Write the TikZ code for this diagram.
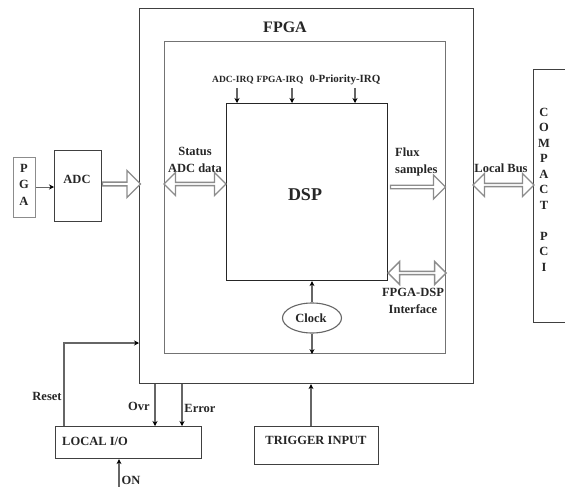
\documentclass[tikz,border=0pt]{standalone}
\usepackage{fontspec}
\setmainfont{Liberation Serif}
\usetikzlibrary{arrows.meta, calc, shapes.geometric, shapes.arrows}

\begin{document}
\begin{tikzpicture}[x=1pt,y=-1pt,>=Stealth,
  every node/.style={font=\bfseries\fontsize{12.5}{17}\selectfont, inner sep=0pt, text=black!85},
  box/.style={draw=black!75, line width=1.1pt, anchor=north west},
  link/.style={draw=black!60, line width=1.1pt, ->, >={Stealth[length=5pt,width=5pt,black]}},
  hollow/.style={draw=black!45, fill=white, line width=1.3pt, inner sep=0pt},
  small/.style={font=\bfseries\fontsize{9.5}{11}\selectfont}]
  \useasboundingbox (0,0) rectangle (565,487);

  % boxes
  \node[box, minimum width=334pt, minimum height=375pt] (fpga) at (139,8) {};
  \node[box, draw=black!55, minimum width=281pt, minimum height=312pt] (core) at (164,41) {};
  \node[box, draw=black!85, minimum width=161pt, minimum height=177pt] (dsp) at (226,103) {};
  \node[box, draw=black!45, minimum width=22pt, minimum height=60pt] (pga) at (13,157) {};
  \node[box, minimum width=47pt, minimum height=71pt] (adc) at (54,150) {};
  \node[box, minimum width=60pt, minimum height=253pt] (cpci) at (533,69) {};
  \node[box, minimum width=146pt, minimum height=32pt] (lio) at (55,426) {};
  \node[box, minimum width=124pt, minimum height=38pt] (trig) at (254,426) {};
  \node[ellipse, draw=black!60, line width=1.1pt, minimum width=59pt, minimum height=30pt] (clk) at (312,318) {};

  % labels
  \node[font=\bfseries\fontsize{16}{18}\selectfont] (fpgalbl) at (285,27) {FPGA};
  \node[font=\bfseries\fontsize{18}{20}\selectfont] (dsplbl) at (305,195) {DSP};
  \node (adclbl) at (77,179) {ADC};
  \node (clklbl) at (311,318) {Clock};
  \foreach \ch [count=\i] in {P,G,A}
    \node (pga\i) at (24,{168+16.5*(\i-1)}) {\ch};
  \foreach \ch [count=\i] in {C,O,M,P,A,C,T,{},P,C,I}
    \node (cp\i) at (544,{112+15.5*(\i-1)}) {\ch};
  \node[small] (irqa) at (233,80) {ADC-IRQ};
  \node[small] (irqb) at (280,80) {FPGA-IRQ};
  \node[small, font=\bfseries\fontsize{11}{12}\selectfont] (irqc) at (345,80) {0-Priority-IRQ};
  \node[align=center] (stat) at (195,160) {Status\\ADC data};
  \node[align=left, anchor=west] (flux) at (395,162) {Flux\\samples};
  \node (lbus) at (501,168) {Local Bus};
  \node[align=center] (ifc) at (413,301) {FPGA-DSP\\Interface};
  \node[anchor=west] (liolbl) at (62,441) {LOCAL I/O};
  \node (triglbl) at (316,440) {TRIGGER INPUT};
  \node (rstlbl) at (47,396) {Reset};
  \node (ovrlbl) at (139,406) {Ovr};
  \node (errlbl) at (200,408) {Error};
  \node (onlbl) at (131,480) {ON};

  % hollow buses
  \node[hollow, single arrow, single arrow head extend=4pt, minimum height=38pt, minimum width=27pt]
    (adcbus) at ($(adc.east |- 0,184)!.5!(fpga.west |- 0,184)$) {};
  \node[hollow, double arrow, double arrow head extend=4pt, minimum height=62pt, minimum width=23pt]
    (statbus) at ($(core.west |- 0,184)!.5!(dsp.west |- 0,184)$) {};
  \node[hollow, single arrow, single arrow head extend=4pt, minimum height=55pt, minimum width=24pt]
    (fluxbus) at ($(dsp.east |- 0,187)!.5!(core.east |- 0,187)$) {};
  \node[hollow, double arrow, double arrow head extend=4pt, minimum height=61pt, minimum width=23pt]
    (lbusbus) at ($(fpga.east |- 0,185)!.5!(cpci.west |- 0,185)$) {};
  \node[hollow, double arrow, double arrow head extend=4pt, minimum height=58pt, minimum width=23pt]
    (ifcbus) at ($(dsp.east |- 0,273)!.5!(core.east |- 0,273)$) {};

  % interrupt lines
  \foreach \n/\x in {a/237,b/292,c/355}{
    \coordinate (irq\n top) at (\x,88);
    \draw[link] (irq\n top) -- (irq\n top |- dsp.north);
  }

  % clock
  \draw[link] (clk.north) -- (clk.north |- dsp.south);
  \draw[link] (clk.south) -- (clk.south |- core.south);

  % pga to adc
  \draw[link, line width=0.8pt] (pga.east |- 0,187) -- (adc.west |- 0,187);

  % local i/o
  \coordinate (rst) at (64,0);
  \coordinate (rstin) at (0,343);
  \draw[link] (rst |- lio.north) |- (rstin -| fpga.west);
  \coordinate (ovr) at (155,0);
  \coordinate (err) at (182,0);
  \draw[link] (ovr |- fpga.south) -- (ovr |- lio.north);
  \draw[link] (err |- fpga.south) -- (err |- lio.north);
  \coordinate (on) at (119,489);
  \draw[link] (on) -- (on |- lio.south);

  % trigger
  \coordinate (trg) at (311,0);
  \draw[link] (trg |- trig.north) -- (trg |- fpga.south);
\end{tikzpicture}
\end{document}
